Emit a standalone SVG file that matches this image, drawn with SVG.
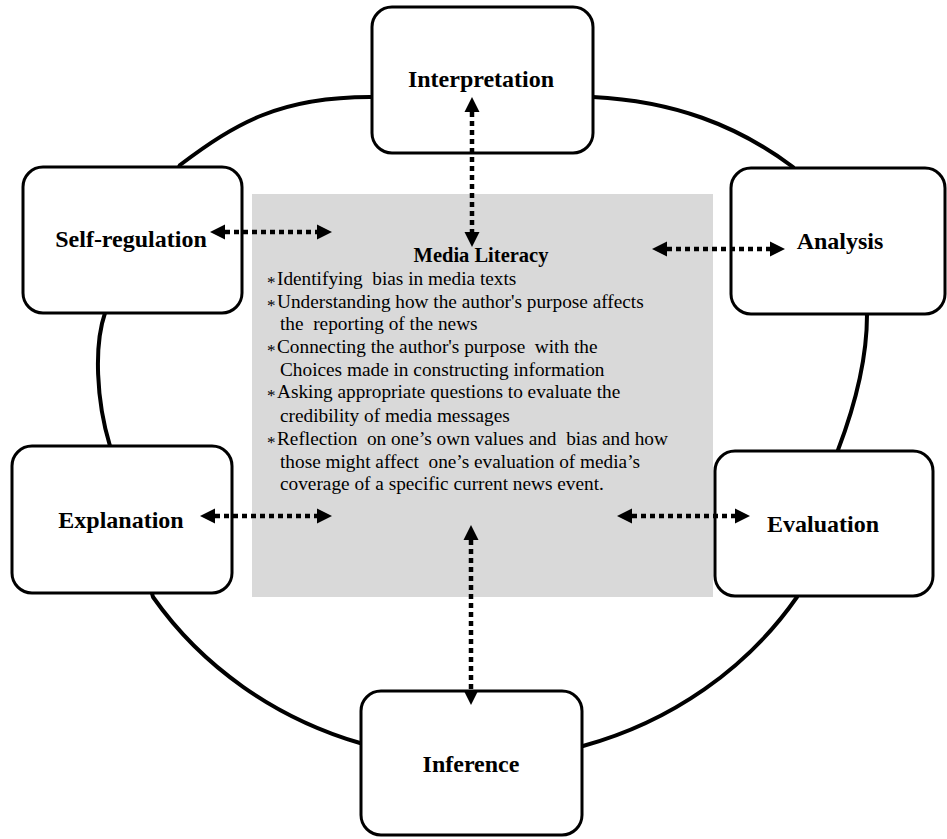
<svg xmlns="http://www.w3.org/2000/svg" width="947" height="839" viewBox="0 0 947 839">
  <defs>
    <style>
      .ring { fill: none; stroke: #000; stroke-width: 4; stroke-linejoin: round; }
      .node rect { fill: #fff; stroke: #000; stroke-width: 3; }
      .label { font-family: "Liberation Serif", "Times New Roman", serif; font-weight: bold; font-size: 24px; fill: #000; text-anchor: middle; }
      .title { font-family: "Liberation Serif", "Times New Roman", serif; font-weight: bold; font-size: 20.5px; fill: #000; text-anchor: middle; }
      .body { font-family: "Liberation Serif", "Times New Roman", serif; font-size: 19.3px; fill: #000; white-space: pre; }
      .ast { font-size: 17px; }
      .conn { stroke: #000; stroke-width: 4.5; stroke-dasharray: 5 4; fill: none; marker-start: url(#head); marker-end: url(#head); }
    </style>
    <marker id="head" markerUnits="userSpaceOnUse" markerWidth="18" markerHeight="18" viewBox="0 -9 18 18" refX="0" refY="0" orient="auto-start-reverse">
      <path d="M0,-7.5 L15,0 L0,7.5 Z" fill="#000"/>
    </marker>
  </defs>

  <path id="cycle" class="ring" d="M 180,165 C 236,123 280,97 370,97 L 593,97 C 673,101 737,125 793,167 L 867,315 C 867,360 854,408 838,450 L 797,597 A 385 360 0 0 1 583,746 L 360,743 A 385 360 0 0 1 153,597 L 110,446 C 96,400 94,345 105,313 Z"/>

  <g id="media-literacy">
    <rect x="252" y="194" width="461" height="403" fill="#d9d9d9"/>
    <text class="title" x="481" y="262">Media Literacy</text>
    <text class="body" x="267" y="285"><tspan class="ast" dy="3">*</tspan><tspan x="277" dy="-3">Identifying  bias in media texts</tspan></text>
    <text class="body" x="267" y="308"><tspan class="ast" dy="3">*</tspan><tspan x="277" dy="-3">Understanding how the author's purpose affects</tspan></text>
    <text class="body" x="280" y="330">the  reporting of the news</text>
    <text class="body" x="267" y="353"><tspan class="ast" dy="3">*</tspan><tspan x="277" dy="-3">Connecting the author's purpose  with the</tspan></text>
    <text class="body" x="280" y="376">Choices made in constructing information</text>
    <text class="body" x="267" y="398"><tspan class="ast" dy="3">*</tspan><tspan x="277" dy="-3">Asking appropriate questions to evaluate the</tspan></text>
    <text class="body" x="280" y="422">credibility of media messages</text>
    <text class="body" x="267" y="445"><tspan class="ast" dy="3">*</tspan><tspan x="277" dy="-3">Reflection  on one’s own values and  bias and how</tspan></text>
    <text class="body" x="280" y="468">those might affect  one’s evaluation of media’s</text>
    <text class="body" x="280" y="490">coverage of a specific current news event.</text>
  </g>

  <g id="interpretation" class="node">
    <rect x="372" y="7" width="221" height="146" rx="20"/>
    <text class="label" x="481" y="87">Interpretation</text>
  </g>
  <g id="self-regulation" class="node">
    <rect x="23" y="167" width="219" height="146" rx="20"/>
    <text class="label" x="131" y="247">Self-regulation</text>
  </g>
  <g id="analysis" class="node">
    <rect x="731" y="168" width="214" height="146" rx="20"/>
    <text class="label" x="840" y="249">Analysis</text>
  </g>
  <g id="explanation" class="node">
    <rect x="12" y="446" width="220" height="147" rx="20"/>
    <text class="label" x="121" y="528">Explanation</text>
  </g>
  <g id="evaluation" class="node">
    <rect x="715" y="451" width="218" height="145" rx="20"/>
    <text class="label" x="823" y="532">Evaluation</text>
  </g>
  <g id="inference" class="node">
    <rect x="361" y="691" width="221" height="144" rx="20"/>
    <text class="label" x="471" y="772">Inference</text>
  </g>

  <g id="connectors">
    <line class="conn" x1="472" y1="112" x2="472" y2="232"/>
    <line class="conn" x1="225" y1="232" x2="317" y2="232"/>
    <line class="conn" x1="667" y1="249" x2="770" y2="249"/>
    <line class="conn" x1="215" y1="516" x2="317" y2="516"/>
    <line class="conn" x1="632" y1="516" x2="735" y2="516"/>
    <line class="conn" x1="471" y1="540" x2="471" y2="690"/>
  </g>
</svg>
